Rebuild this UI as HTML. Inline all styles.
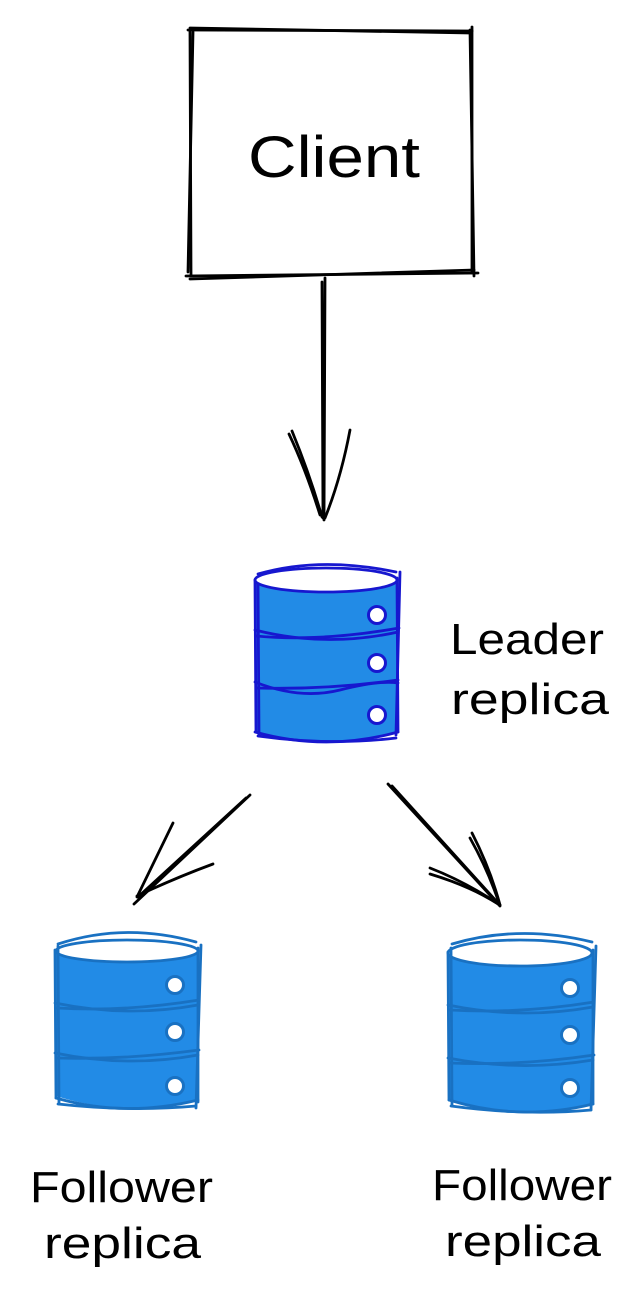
<!DOCTYPE html>
<html><head><meta charset="utf-8"><style>
html,body{margin:0;padding:0;background:#fff;}
svg{display:block;}
text{font-family:"Liberation Sans",sans-serif;fill:#000;}
</style></head><body>
<svg width="644" height="1311" viewBox="0 0 644 1311" xmlns="http://www.w3.org/2000/svg">
<g fill="none" stroke="#000" stroke-width="2.8" stroke-linecap="round">
<!-- Client box -->
<path d="M188,30 L472,31"/>
<path d="M190,28 L470,33"/>
<path d="M190,30 L191,275"/>
<path d="M193,32 L188,272"/>
<path d="M472,27 L472,273"/>
<path d="M470,30 L474,276"/>
<path d="M186,276 L478,273"/>
<path d="M190,279 L474,270"/>
<!-- vertical arrow -->
<path d="M322,282 L323,518"/>
<path d="M325,278 L324,520"/>
<path d="M289,434 Q306,470 320,515"/>
<path d="M292,431 Q310,475 322,517"/>
<path d="M350,430 Q341,478 325,518"/>
<!-- left arrow -->
<path d="M250,795 L134,904"/>
<path d="M246,798 L138,897"/>
<path d="M173,823 Q155,860 137,897"/>
<path d="M213,864 Q175,878 137,896"/>
<!-- right arrow -->
<path d="M388,784 L500,906"/>
<path d="M392,786 L498,903"/>
<path d="M472,833 Q490,868 500,905"/>
<path d="M470,838 Q488,870 499,903"/>
<path d="M430,868 Q466,882 500,905"/>
<path d="M430,874 Q470,886 498,904"/>
</g>

<!-- Leader DB -->
<g stroke="#1717cf" stroke-width="2.8" stroke-linecap="round" fill="none">
<path d="M255,580 L255,732 Q326,752 398,732 L398,578 Z" fill="#228be6" stroke="none"/>
<ellipse cx="326" cy="580" rx="71" ry="12" fill="#fff"/>
<path d="M258,574 Q320,556 396,572"/>
<path d="M255,580 L256,732"/>
<path d="M258,584 L259,735"/>
<path d="M397,578 L398,732"/>
<path d="M400,572 L396,735"/>
<path d="M255,732 Q326,752 398,732"/>
<path d="M258,736 Q330,746 396,738"/>
<path d="M255,630 Q326,648 398,632"/>
<path d="M256,636 Q320,642 399,628"/>
<path d="M255,682 Q300,700 340,690 T398,683"/>
<path d="M256,688 Q326,690 398,680"/>
<g fill="#fff" stroke-width="3">
<circle cx="377" cy="615" r="8.5"/>
<circle cx="377" cy="663" r="8.5"/>
<circle cx="377" cy="715" r="8.5"/>
</g>
</g>

<!-- Follower left DB -->
<g stroke="#1971c2" stroke-width="2.8" stroke-linecap="round" fill="none">
<path d="M55,952 L56,1096 Q125,1118 198,1100 L198,950 Z" fill="#228be6" stroke="none"/>
<ellipse cx="127" cy="951" rx="71" ry="11" fill="#fff"/>
<path d="M58,944 Q125,922 196,942"/>
<path d="M55,950 L56,1098"/>
<path d="M58,946 L59,1104"/>
<path d="M198,948 L198,1102"/>
<path d="M201,945 L196,1108"/>
<path d="M56,1098 Q125,1118 198,1100"/>
<path d="M58,1104 Q130,1112 196,1106"/>
<path d="M55,1003 Q127,1018 198,1005"/>
<path d="M57,1008 Q125,1012 199,1000"/>
<path d="M55,1053 Q127,1068 198,1055"/>
<path d="M57,1058 Q125,1060 199,1050"/>
<g fill="#fff" stroke-width="3">
<circle cx="175" cy="985" r="8.5"/>
<circle cx="175" cy="1032" r="8.5"/>
<circle cx="175" cy="1086" r="8.5"/>
</g>
</g>

<!-- Follower right DB -->
<g stroke="#1971c2" stroke-width="2.8" stroke-linecap="round" fill="none">
<path d="M448,954 L449,1100 Q520,1122 593,1104 L593,952 Z" fill="#228be6" stroke="none"/>
<ellipse cx="520" cy="953" rx="72" ry="13" fill="#fff"/>
<path d="M452,944 Q520,924 592,942"/>
<path d="M448,952 L449,1100"/>
<path d="M451,948 L452,1106"/>
<path d="M593,950 L593,1104"/>
<path d="M596,946 L591,1110"/>
<path d="M449,1100 Q520,1122 593,1104"/>
<path d="M451,1106 Q525,1116 591,1110"/>
<path d="M448,1005 Q520,1020 593,1007"/>
<path d="M450,1010 Q520,1014 594,1002"/>
<path d="M448,1058 Q520,1072 593,1060"/>
<path d="M450,1063 Q520,1066 594,1055"/>
<g fill="#fff" stroke-width="3">
<circle cx="570" cy="988" r="8.5"/>
<circle cx="570" cy="1035" r="8.5"/>
<circle cx="570" cy="1088" r="8.5"/>
</g>
</g>

<!-- Labels -->
<text x="248" y="177" font-size="58" textLength="172" lengthAdjust="spacingAndGlyphs">Client</text>
<text x="450" y="654" font-size="44" textLength="154" lengthAdjust="spacingAndGlyphs">Leader</text>
<text x="451" y="714" font-size="44" textLength="158" lengthAdjust="spacingAndGlyphs">replica</text>
<text x="30" y="1202" font-size="44" textLength="183" lengthAdjust="spacingAndGlyphs">Follower</text>
<text x="44" y="1258" font-size="44" textLength="157" lengthAdjust="spacingAndGlyphs">replica</text>
<text x="432" y="1200" font-size="44" textLength="180" lengthAdjust="spacingAndGlyphs">Follower</text>
<text x="445" y="1256" font-size="44" textLength="156" lengthAdjust="spacingAndGlyphs">replica</text>
</svg>
</body></html>
